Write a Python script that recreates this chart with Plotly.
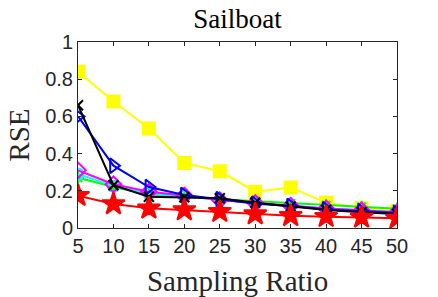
import plotly.graph_objects as go

ratios = [5, 10, 15, 20, 25, 30, 35, 40, 45, 50]
yellow_sq = [0.84, 0.68, 0.535, 0.35, 0.305, 0.195, 0.218, 0.136, 0.106, 0.09]
green_ast = [0.27, 0.22, 0.18, 0.17, 0.155, 0.145, 0.132, 0.122, 0.114, 0.104]
cyan_circ = [0.29, 0.225, 0.185, 0.17, 0.15, 0.135, 0.12, 0.105, 0.095, 0.085]
magenta_dia = [0.31, 0.235, 0.195, 0.175, 0.15, 0.135, 0.12, 0.105, 0.095, 0.085]
blue_tri = [0.60, 0.335, 0.22, 0.177, 0.155, 0.13, 0.118, 0.10, 0.09, 0.08]
black_x = [0.66, 0.23, 0.168, 0.165, 0.16, 0.136, 0.115, 0.097, 0.085, 0.075]
red_star = [0.174, 0.129, 0.106, 0.097, 0.088, 0.075, 0.066, 0.061, 0.057, 0.052]

series = [
    (yellow_sq, "#FFFF00", "square", 12),
    (green_ast, "#00FF00", "asterisk-open", 10),
    (cyan_circ, "#00FFFF", "circle-open", 11),
    (magenta_dia, "#FF00FF", "diamond-open", 12),
    (blue_tri, "#0000FF", "triangle-right-open", 13),
    (black_x, "#000000", "x-thin-open", 10),
    (red_star, "#FF0000", "star", 17),
]

fig = go.Figure()
for ys, col, sym, sz in series:
    fig.add_trace(go.Scatter(
        x=ratios, y=ys, mode="lines+markers",
        line=dict(color=col, width=2),
        marker=dict(symbol=sym, size=sz, color=col, line=dict(color=col, width=2)),
        showlegend=False,
    ))

axis_common = dict(
    showgrid=False, zeroline=False, showline=True, linecolor="#262626", linewidth=1,
    mirror="ticks", ticks="inside", ticklen=4, tickcolor="#262626",
    tickfont=dict(family="Liberation Sans", size=20, color="#262626"),
)
fig.update_xaxes(range=[5, 50], tickvals=ratios, ticktext=[str(r) for r in ratios],
                 title=dict(text="Sampling Ratio", font=dict(family="Liberation Serif", size=29, color="#262626"), standoff=19),
                 **axis_common)
fig.update_yaxes(range=[0, 1], tickvals=[0, 0.2, 0.4, 0.6, 0.8, 1],
                 ticktext=["0", "0.2", "0.4", "0.6", "0.8", "1"],
                 title=dict(text="RSE", font=dict(family="Liberation Serif", size=29, color="#262626"), standoff=7),
                 **axis_common)
fig.update_layout(
    width=438, height=297,
    margin=dict(l=78, r=41, t=42, b=69, autoexpand=False),
    plot_bgcolor="white", paper_bgcolor="white",
    title=dict(text="Sailboat", x=0.5 * (78 + 397) / 438, xanchor="center", y=1 - 19 / 297, yanchor="middle",
               font=dict(family="Liberation Serif", size=27, color="black")),
)
fig.write_html("out.html", config={"displayModeBar": False},
               post_script="document.body.style.margin='0';")
